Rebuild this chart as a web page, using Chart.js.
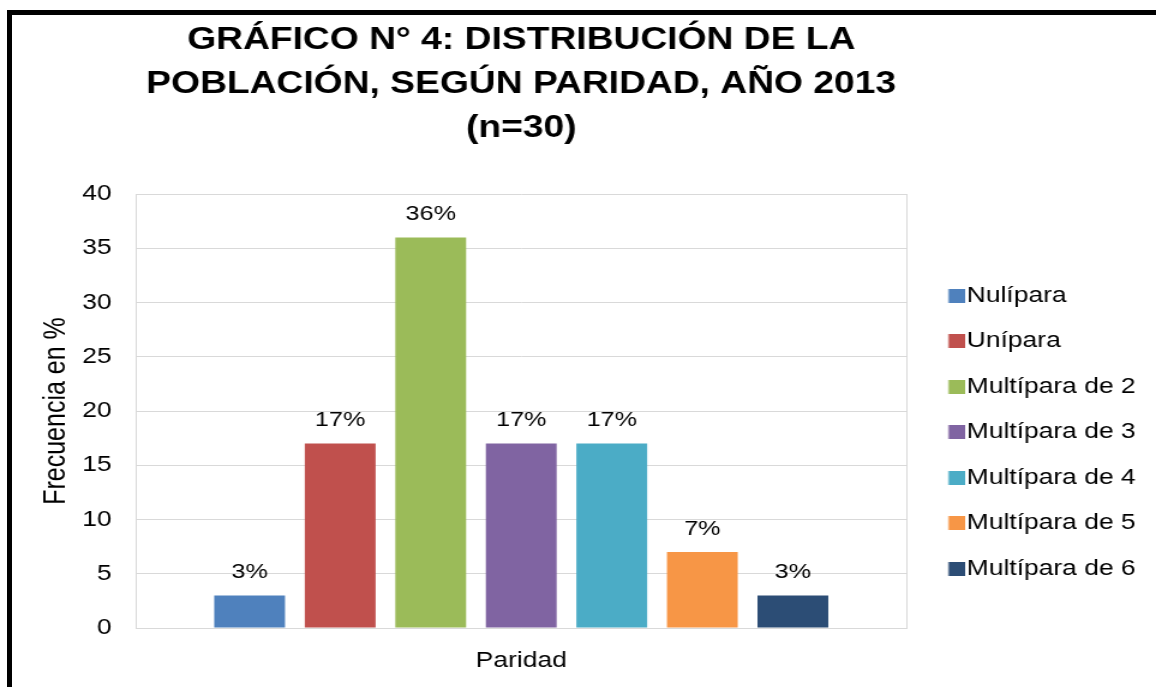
<!DOCTYPE html>
<html>
<head>
<meta charset="utf-8">
<script src="https://cdn.jsdelivr.net/npm/chart.js@4/dist/chart.umd.min.js"></script>
<style>
  html, body { margin: 0; padding: 0; background: #fff; }
  #frame {
    position: absolute; left: 7px; top: 10px;
    width: 1144px; height: 672px;
    border-left: 5px solid #000; border-top: 5px solid #000;
  }
  #chart { display: block; width: 1144px; height: 672px; }
</style>
</head>
<body>
<div id="frame">
  <canvas id="chart" width="953" height="672" style="width:1144px;height:672px"></canvas>
</div>
<script>
const categories = ['Paridad'];
const seriesNames = ['Nulípara', 'Unípara', 'Multípara de 2', 'Multípara de 3', 'Multípara de 4', 'Multípara de 5', 'Multípara de 6'];
const seriesValues = [3, 17, 36, 17, 17, 7, 3];
const seriesColors = ['#4f81bd', '#c0504d', '#9bbb59', '#8064a2', '#4bacc6', '#f79646', '#2c4d75'];
const titleLines = ['GRÁFICO N° 4: DISTRIBUCIÓN DE LA', 'POBLACIÓN, SEGÚN PARIDAD, AÑO 2013', '(n=30)'];
const yMin = 0, yMax = 40, yStep = 5;

const font = 'Liberation Sans, Arial, sans-serif';

// small square for the legend, sitting close to its text
function swatch(color) {
  const c = document.createElement('canvas');
  c.width = 34;
  c.height = 14;
  const g = c.getContext('2d');
  g.fillStyle = color;
  g.fillRect(20.5, 0, 13.5, 14);
  return c;
}
const swatches = seriesColors.map(swatch);

// percentage labels above each bar
const barLabels = {
  id: 'barLabels',
  afterDatasetsDraw(chart) {
    const ctx = chart.ctx;
    ctx.save();
    ctx.font = '21px ' + font;
    ctx.fillStyle = '#000';
    ctx.textAlign = 'center';
    ctx.textBaseline = 'middle';
    chart.data.datasets.forEach((ds, i) => {
      const bar = chart.getDatasetMeta(i).data[0];
      ctx.fillText(ds.data[0] + '%', bar.x, bar.y - 23);
    });
    ctx.restore();
  }
};

const chart = document.querySelector('#chart').getContext('2d');

new Chart(chart, {
  type: 'bar',
  data: {
    labels: categories,
    datasets: seriesNames.map((name, i) => ({
      label: name,
      data: [seriesValues[i]],
      backgroundColor: seriesColors[i],
      borderWidth: 0
    }))
  },
  options: {
    responsive: false,
    devicePixelRatio: 1,
    animation: false,
    categoryPercentage: 0.822,
    barPercentage: 0.782,
    layout: { padding: { left: 22.6, right: 7, top: 0, bottom: -6.4 } },
    plugins: {
      tooltip: { enabled: false },
      title: {
        display: true,
        fullSize: false,
        text: titleLines,
        color: '#000',
        font: { family: font, size: 31, weight: 'bold', lineHeight: 1.42 },
        padding: { top: 3.5, bottom: 43.5 }
      },
      legend: {
        position: 'right',
        fullSize: false,
        title: { display: true, text: '', font: { size: 12, lineHeight: 1.2 }, padding: { top: 28, bottom: 0 } },
        labels: {
          color: '#000',
          font: { family: font, size: 22 },
          usePointStyle: true,
          pointStyleWidth: 15.5,
          boxHeight: 14,
          padding: 23.5,
          generateLabels(chart) {
            const items = Chart.defaults.plugins.legend.labels.generateLabels(chart);
            items.forEach((item, i) => { item.pointStyle = swatches[i]; });
            return items;
          }
        }
      }
    },
    scales: {
      x: {
        grid: { display: true, color: '#d9d9d9', drawTicks: false, offset: true },
        border: { display: true, color: '#d9d9d9' },
        ticks: { color: '#000', font: { family: font, size: 22 }, padding: 19.5 }
      },
      y: {
        min: yMin,
        max: yMax,
        grid: { color: '#d9d9d9', drawTicks: false },
        border: { display: true, color: '#d9d9d9' },
        ticks: { stepSize: yStep, color: '#000', font: { family: font, size: 22 }, padding: 20 },
        title: {
          display: true,
          text: 'Frecuencia en %',
          color: '#000',
          font: { family: font, size: 25, lineHeight: 1.2 },
          padding: { top: 0, bottom: -14 }
        }
      }
    }
  },
  plugins: [barLabels]
});
</script>
</body>
</html>
